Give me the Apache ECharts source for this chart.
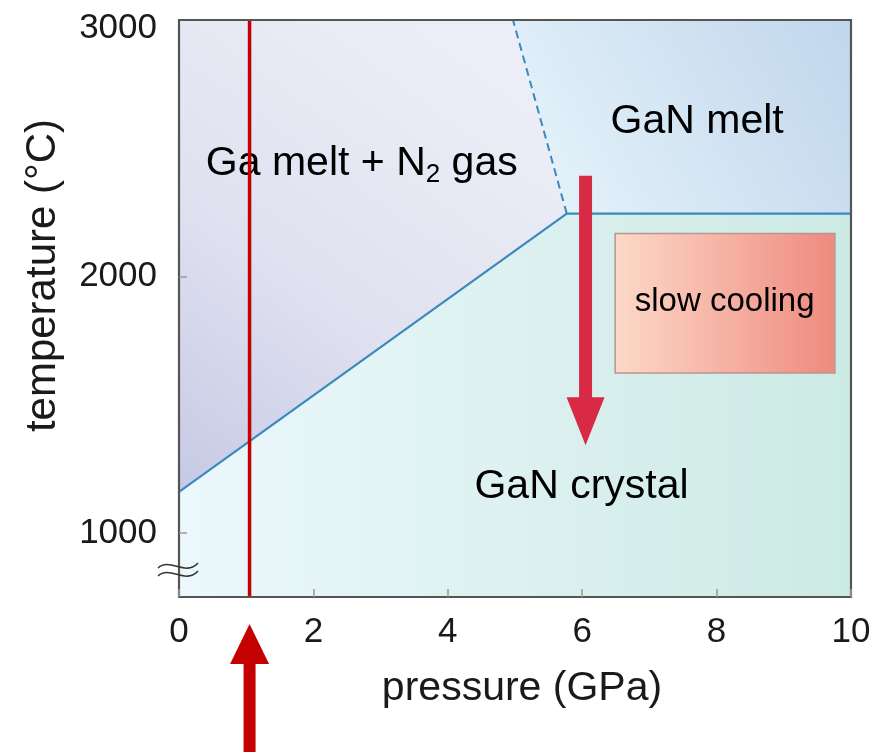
<!DOCTYPE html>
<html><head><meta charset="utf-8">
<script src="https://cdn.jsdelivr.net/npm/echarts@6/dist/echarts.min.js"></script>
<style>html,body{margin:0;padding:0;background:#fff}#c{width:879px;height:752px}</style>
</head><body><div id="c"></div>
<script>
// ---- data ----
const pMin = 0, pMax = 10, tMin = 750, tMax = 3000;
const xTickStep = 2;
const yTickValues = [1000, 2000, 3000];
const boundaryP = [0, 5.77, 10];          // GaN crystal / melt boundary (solid)
const boundaryT = [1160, 2245, 2245];
const dashP = [5.77, 4.97];                // Ga melt+N2 / GaN melt boundary (dashed)
const dashT = [2245, 3000];
const redLineP = [1.05, 1.05];             // process line
const redLineT = [tMin, tMax];
const coolP = [6.05, 6.05];                // slow cooling arrow
const coolT = [2393, 1342];
const boxP = [6.49, 9.76];                 // slow cooling box
const boxT = [2167, 1623];
const labelTexts = ['Ga melt + N2 gas', 'GaN melt', 'GaN crystal', 'slow cooling'];
const labelP = [2.72, 7.71, 5.99, 8.12];
const labelT = [2440, 2603, 1181, 1899];

const FONT = '"Liberation Sans", Arial, Helvetica, sans-serif';
const chart = echarts.init(document.getElementById('c'), null, {renderer: 'canvas'});
const LG = echarts.graphic.LinearGradient;

const regions = [
  [[pMin, boundaryT[0]], [boundaryP[1], boundaryT[1]], [dashP[1], dashT[1]], [pMin, tMax]],
  [[dashP[1], tMax], [boundaryP[1], boundaryT[1]], [pMax, boundaryT[2]], [pMax, tMax]],
  [[pMin, tMin], [pMin, boundaryT[0]], [boundaryP[1], boundaryT[1]], [pMax, boundaryT[2]], [pMax, tMin]]
];
const regionFills = [
  new LG(0.8, 0.1, 0, 1, [{offset: 0, color: '#eceef7'}, {offset: 0.55, color: '#dfe1f0'}, {offset: 1, color: '#c6c9e4'}]),
  new LG(0, 1, 1, 0, [{offset: 0, color: '#e8f5fb'}, {offset: 1, color: '#c0d6ec'}]),
  new LG(0, 0, 1, 0, [{offset: 0, color: '#ecf8fc'}, {offset: 1, color: '#cceae4'}])
];

const option = {
  backgroundColor: '#ffffff',
  animation: false,
  grid: {left: 179, right: 28, top: 20, bottom: 155, show: false},
  xAxis: {
    type: 'value', min: pMin, max: pMax, interval: xTickStep, z: 8,
    name: 'pressure (GPa)', nameLocation: 'middle', nameGap: 71,
    nameTextStyle: {fontFamily: FONT, fontSize: 41, color: '#1a1a1a', padding: [0, 0, 0, 14]},
    axisLine: {show: false},
    axisTick: {show: true, inside: true, length: 8, lineStyle: {color: '#999', width: 1.5}},
    axisLabel: {fontFamily: FONT, fontSize: 35, color: '#1a1a1a', margin: 18},
    splitLine: {show: false}
  },
  yAxis: {
    type: 'value', min: tMin, max: tMax, z: 8,
    name: 'temperature (°C)', nameLocation: 'middle', nameGap: 115,
    nameTextStyle: {fontFamily: FONT, fontSize: 42, color: '#1a1a1a', padding: [0, 0, 0, 66]},
    axisLine: {show: false},
    axisTick: {show: true, inside: true, length: 8, customValues: yTickValues.slice(0, 2), lineStyle: {color: '#999', width: 1.5}},
    axisLabel: {
      fontFamily: FONT, fontSize: 35, color: '#1a1a1a', margin: 22, customValues: yTickValues,
      formatter: v => v === tMax ? '{t|' + v + '}' : '' + v,
      rich: {t: {fontFamily: FONT, fontSize: 35, color: '#1a1a1a', padding: [16, 0, 0, 0]}}
    },
    splitLine: {show: false}
  },
  series: [
    { // phase regions
      type: 'custom', z: 1, silent: true,
      data: [[0], [1], [2]],
      renderItem: (params, api) => ({
        type: 'polygon',
        shape: {points: regions[params.dataIndex].map(pt => api.coord(pt))},
        style: {fill: regionFills[params.dataIndex]}
      })
    },
    { // solid boundary
      type: 'line', z: 3, silent: true, showSymbol: false,
      data: boundaryP.map((p, i) => [p, boundaryT[i]]),
      lineStyle: {color: '#3b89bd', width: 2.2}
    },
    { // dashed boundary
      type: 'line', z: 3, silent: true, showSymbol: false,
      data: dashP.map((p, i) => [p, dashT[i]]),
      lineStyle: {color: '#3b89bd', width: 2, type: [8, 5]}
    },
    { // slow cooling box
      type: 'custom', z: 3, silent: true,
      data: [[boxP[0], boxT[0], boxP[1], boxT[1]]],
      renderItem: (params, api) => {
        const a = api.coord([api.value(0), api.value(1)]);
        const b = api.coord([api.value(2), api.value(3)]);
        return {
          type: 'rect',
          shape: {x: a[0], y: a[1], width: b[0] - a[0], height: b[1] - a[1]},
          style: {
            fill: new LG(0, 0, 1, 0, [{offset: 0, color: '#fdd9c8'}, {offset: 1, color: '#ee8a7f'}]),
            stroke: '#b8968e', lineWidth: 1.5
          }
        };
      }
    },
    { // region labels
      type: 'custom', z: 4, silent: true,
      data: labelP.map((p, i) => [p, labelT[i], i]),
      renderItem: (params, api) => {
        const i = params.dataIndex;
        const c = api.coord([api.value(0), api.value(1)]);
        let text = labelTexts[i];
        const size = i === 3 ? 33 : 41;
        const rich = {
          a: {fontFamily: FONT, fontSize: size, color: '#1a1a1a', lineHeight: 48},
          s: {fontFamily: FONT, fontSize: 26, color: '#1a1a1a', lineHeight: 27, verticalAlign: 'bottom'}
        };
        if (i === 0) {
          const k = text.indexOf('N2');
          text = '{a|' + text.slice(0, k + 1) + '}{s|2}{a|' + text.slice(k + 2) + '}';
        } else {
          text = '{a|' + text + '}';
        }
        return {
          type: 'text', x: c[0], y: c[1],
          style: {text: text, rich: rich, align: 'center', verticalAlign: 'middle'}
        };
      }
    },
    { // red process line
      type: 'line', z: 5, silent: true, showSymbol: false,
      data: redLineP.map((p, i) => [p, redLineT[i]]),
      lineStyle: {color: '#c40000', width: 3.5}
    },
    { // slow cooling arrow
      type: 'custom', z: 6, silent: true,
      data: [[coolP[0], coolT[0], coolP[1], coolT[1]]],
      renderItem: (params, api) => {
        const s = api.coord([api.value(0), api.value(1)]);
        const e = api.coord([api.value(2), api.value(3)]);
        const x = s[0], head = 48, hw = 19, sw = 6.5;
        return {
          type: 'group', children: [
            {type: 'rect', shape: {x: x - sw, y: s[1], width: sw * 2, height: e[1] - head - s[1] + 1}, style: {fill: '#d92a45'}},
            {type: 'polygon', shape: {points: [[x - hw, e[1] - head], [x + hw, e[1] - head], [x, e[1]]]}, style: {fill: '#d92a45'}}
          ]
        };
      }
    },
    { // up arrow below x-axis marking the process pressure
      type: 'custom', z: 6, silent: true, clip: false,
      data: [[redLineP[0], tMin]],
      renderItem: (params, api) => {
        const c = api.coord([api.value(0), api.value(1)]);
        const x = c[0];
        const tip = c[1] + 27, head = 40, hw = 19.5, sw = 6;
        const bottom = api.getHeight();
        return {
          type: 'group', children: [
            {type: 'rect', shape: {x: x - sw, y: tip + head - 1, width: sw * 2, height: bottom - tip - head + 1}, style: {fill: '#c40000'}},
            {type: 'polygon', shape: {points: [[x - hw, tip + head], [x + hw, tip + head], [x, tip]]}, style: {fill: '#c40000'}}
          ]
        };
      }
    },
    { // frame + axis break mark
      type: 'custom', z: 7, silent: true, clip: false,
      data: [[pMin, tMin]],
      renderItem: (params, api) => {
        const cs = params.coordSys;
        const o = api.coord([api.value(0), api.value(1)]);
        const bx = o[0], by = o[1];
        const wave = (y) => ({
          type: 'bezierCurve',
          shape: {x1: bx - 21, y1: y + 2, cpx1: bx - 9, cpy1: y - 9, cpx2: bx + 6, cpy2: y + 11, x2: bx + 19, y2: y - 3},
          style: {stroke: '#333', lineWidth: 1.6, fill: null}
        });
        return {
          type: 'group', children: [
            {type: 'rect', shape: {x: cs.x, y: cs.y, width: cs.width, height: cs.height}, style: {fill: null, stroke: '#555', lineWidth: 2.2}},
            wave(by - 31),
            wave(by - 23)
          ]
        };
      }
    }
  ]
};
chart.setOption(option);
</script></body></html>
